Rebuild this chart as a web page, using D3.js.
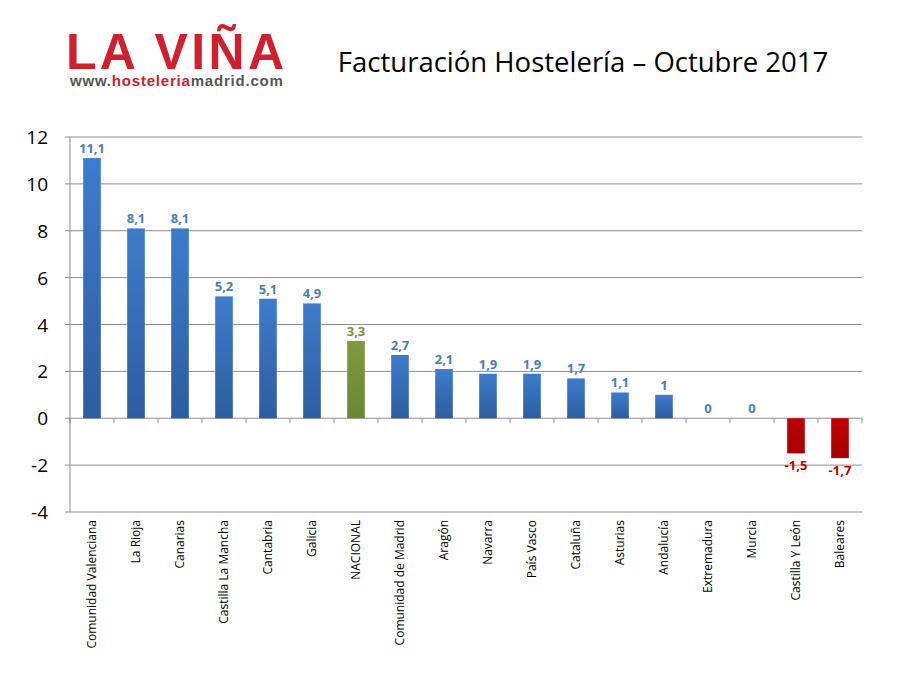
<!doctype html>
<html>
<head>
<meta charset="UTF-8">
<script src="https://cdn.jsdelivr.net/npm/d3@7"></script>
<style>
	body { margin: 0; background: #fff; font-family: "Open Sans", sans-serif; }
</style>
</head>
<body>
<script>
	var categories = ['Comunidad Valenciana', 'La Rioja', 'Canarias', 'Castilla La Mancha', 'Cantabria', 'Galicia',
		'NACIONAL', 'Comunidad de Madrid', 'Aragón', 'Navarra', 'País Vasco', 'Cataluña', 'Asturias',
		'Andalucía', 'Extremadura', 'Murcia', 'Castilla Y León', 'Baleares'];
	var values = [11.1, 8.1, 8.1, 5.2, 5.1, 4.9, 3.3, 2.7, 2.1, 1.9, 1.9, 1.7, 1.1, 1, 0, 0, -1.5, -1.7];
	var yTicks = [-4, -2, 0, 2, 4, 6, 8, 10, 12];

	var w = 907, h = 687,
		pLeft = 70, pRight = 862, pTop = 137, pBottom = 512;

	var svg = d3.select('body').append('svg').attr('width', w).attr('height', h);

	var defs = svg.append('defs');
	var mkGrad = function(id, c1, c2) {
		var g = defs.append('linearGradient').attr('id', id)
			.attr('x1', 0).attr('y1', 0).attr('x2', 0).attr('y2', 1);
		g.append('stop').attr('offset', '0%').attr('stop-color', c1);
		g.append('stop').attr('offset', '100%').attr('stop-color', c2);
	};
	mkGrad('gBlue', '#3d7ccc', '#2c5d9f');
	mkGrad('gGreen', '#7d9a3e', '#6a8833');
	mkGrad('gRed', '#c00000', '#a80000');

	var x = d3.scaleBand().domain(categories).range([pLeft, pRight]).paddingInner(0.6).paddingOuter(0.3);
	var y = d3.scaleLinear().domain([-4, 12]).range([pBottom, pTop]);
	var band = (pRight - pLeft) / categories.length;

	// gridlines
	svg.append('g').selectAll('line').data(yTicks).enter().append('line')
		.attr('x1', pLeft).attr('x2', pRight)
		.attr('y1', function(d) { return y(d); }).attr('y2', function(d) { return y(d); })
		.attr('stroke', '#8c8c8c').attr('stroke-width', 1);

	// y axis
	svg.append('line').attr('x1', pLeft).attr('x2', pLeft).attr('y1', pTop).attr('y2', pBottom)
		.attr('stroke', '#8c8c8c');
	svg.append('g').selectAll('line').data(yTicks).enter().append('line')
		.attr('x1', pLeft - 5).attr('x2', pLeft)
		.attr('y1', function(d) { return y(d); }).attr('y2', function(d) { return y(d); })
		.attr('stroke', '#8c8c8c');
	svg.append('g').selectAll('text').data(yTicks).enter().append('text')
		.attr('x', pLeft - 22).attr('y', function(d) { return y(d) + 7; })
		.attr('text-anchor', 'end').attr('font-size', 19).attr('fill', '#000')
		.text(function(d) { return d; });

	// category ticks on zero line
	svg.append('g').selectAll('line').data(d3.range(categories.length + 1)).enter().append('line')
		.attr('x1', function(i) { return pLeft + i * band; }).attr('x2', function(i) { return pLeft + i * band; })
		.attr('y1', y(0)).attr('y2', y(0) + 5).attr('stroke', '#8c8c8c');

	var color = function(d, i) {
		if (categories[i] === 'NACIONAL') return ['url(#gGreen)', '#77933c'];
		if (d < 0) return ['url(#gRed)', '#c00000'];
		return ['url(#gBlue)', '#4a7ebb'];
	};

	// bars
	svg.append('g').selectAll('rect').data(values).enter().append('rect')
		.attr('x', function(d, i) { return x(categories[i]); })
		.attr('width', x.bandwidth())
		.attr('y', function(d) { return y(Math.max(0, d)); })
		.attr('height', function(d) { return Math.abs(y(d) - y(0)); })
		.attr('fill', function(d, i) { return color(d, i)[0]; });

	// value labels
	svg.append('g').selectAll('text').data(values).enter().append('text')
		.attr('x', function(d, i) { return x(categories[i]) + x.bandwidth() / 2; })
		.attr('y', function(d) { return d < 0 ? y(d) + 17 : y(d) - 5; })
		.attr('text-anchor', 'middle').attr('font-size', 13).attr('font-weight', 'bold')
		.attr('fill', function(d, i) { return color(d, i)[1]; })
		.text(function(d) { return String(d).replace('.', ','); });

	// category labels
	svg.append('g').selectAll('text').data(categories).enter().append('text')
		.attr('transform', function(d) {
			return 'translate(' + (x(d) + x.bandwidth() / 2 + 4) + ',' + (pBottom + 8) + ') rotate(-90)';
		})
		.attr('text-anchor', 'end').attr('font-size', 12).attr('fill', '#000')
		.text(function(d) { return d; });

	// title and logo
	svg.append('text').attr('x', 583).attr('y', 72).attr('text-anchor', 'middle')
		.attr('font-size', 27.5).attr('fill', '#000').text('Facturación Hostelería – Octubre 2017');
	svg.append('text').attr('x', 66).attr('y', 69)
		.attr('font-family', 'Liberation Sans, Arial, sans-serif').attr('font-weight', 'bold')
		.attr('font-size', 50).attr('fill', '#d0202e').attr('textLength', 218).text('LA VIÑA');
	var url = svg.append('text').attr('x', 70).attr('y', 86)
		.attr('font-family', 'Liberation Sans, Arial, sans-serif').attr('font-weight', 'bold')
		.attr('font-size', 15).attr('letter-spacing', 0.8);
	url.append('tspan').attr('fill', '#555').text('www.');
	url.append('tspan').attr('fill', '#d0202e').text('hosteleria');
	url.append('tspan').attr('fill', '#555').text('madrid.com');
</script>
</body>
</html>
